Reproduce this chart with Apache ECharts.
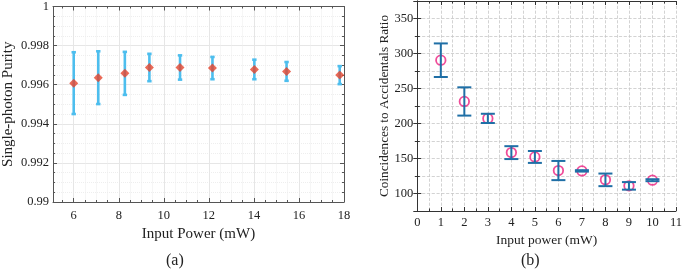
<!DOCTYPE html>
<html>
<head>
<meta charset="utf-8">
<script src="https://cdn.jsdelivr.net/npm/echarts@6/dist/echarts.min.js"></script>
<style>
    html, body { margin: 0; padding: 0; background: #fff; }
    #chart { width: 685px; height: 271px; }
</style>
</head>
<body>
<div id="chart"></div>
<script>
// (a) purity vs input power
var purityPower = [6.0, 7.09, 8.27, 9.36, 10.72, 12.16, 14.02, 15.45, 17.81];
var purityValue = [0.99608, 0.99636, 0.99658, 0.99688, 0.99688, 0.99685, 0.99678, 0.99668, 0.99649];
var purityErr = [0.00158, 0.00135, 0.0011, 0.0007, 0.00062, 0.00057, 0.0005, 0.00048, 0.00046];

// (b) CAR vs input power
var carPower = [1, 2, 3, 4, 5, 6, 7, 8, 9, 10];
var carValue = [290.4, 231.5, 207.3, 158.4, 152.2, 132.8, 132.3, 119.5, 110.9, 119.0];
var carErr = [24.0, 20.2, 6.6, 9.2, 8.5, 13.7, 1.0, 9.0, 5.4, 1.4];

var serif = 'Liberation Serif';

function pairs(xs, ys) {
    return xs.map(function (x, i) { return [x, ys[i]]; });
}
function bars(xs, ys, es) {
    return xs.map(function (x, i) { return [x, ys[i] - es[i], ys[i] + es[i]]; });
}

// vertical error bar with caps
function errorBar(capHalf, width) {
    return function (params, api) {
        var x = api.value(0);
        var lo = api.coord([x, api.value(1)]);
        var hi = api.coord([x, api.value(2)]);
        var style = {stroke: api.visual('color'), lineWidth: width, fill: null};
        return {
            type: 'group',
            children: [
                {type: 'line', shape: {x1: hi[0], y1: hi[1], x2: lo[0], y2: lo[1]}, style: style},
                {type: 'line', shape: {x1: hi[0] - capHalf, y1: hi[1], x2: hi[0] + capHalf, y2: hi[1]}, style: style},
                {type: 'line', shape: {x1: lo[0] - capHalf, y1: lo[1], x2: lo[0] + capHalf, y2: lo[1]}, style: style}
            ]
        };
    };
}

// frame-only axis (ticks on top / right)
function frameAxis(base, pos) {
    return Object.assign({}, base, {
        position: pos,
        name: '',
        axisLabel: {show: false},
        splitLine: {show: false},
        minorSplitLine: {show: false}
    });
}

var ax1 = {
    type: 'value', gridIndex: 0, min: 5.08, max: 18, minInterval: 2, maxInterval: 2,
    axisLine: {lineStyle: {color: '#555', width: 1}},
    axisTick: {inside: true, length: 4, lineStyle: {color: '#555'}},
    minorTick: {show: true, splitNumber: 4, length: 2, lineStyle: {color: '#555'}},
    axisLabel: {margin: 7, color: '#222', fontFamily: serif, fontSize: 12.5, showMinLabel: false},
    splitLine: {show: true, lineStyle: {color: '#e6e6e6', width: 1}},
    minorSplitLine: {show: true, lineStyle: {color: '#eeeeee', type: 'dotted', width: 1}},
    name: 'Input Power (mW)', nameLocation: 'middle', nameGap: 19,
    nameTextStyle: {color: '#222', fontFamily: serif, fontSize: 15}
};
var ay1 = {
    type: 'value', gridIndex: 0, min: 0.99, max: 1, interval: 0.002,
    axisLine: {lineStyle: {color: '#555', width: 1}},
    axisTick: {inside: true, length: 4, lineStyle: {color: '#555'}},
    minorTick: {show: true, splitNumber: 4, length: 2, lineStyle: {color: '#555'}},
    axisLabel: {margin: 4, color: '#222', fontFamily: serif, fontSize: 12.5},
    splitLine: {show: true, lineStyle: {color: '#e6e6e6', width: 1}},
    minorSplitLine: {show: true, lineStyle: {color: '#eeeeee', type: 'dotted', width: 1}},
    name: 'Single-photon Purity', nameLocation: 'middle', nameGap: 37,
    nameTextStyle: {color: '#222', fontFamily: serif, fontSize: 15}
};
var ax2 = {
    type: 'value', gridIndex: 1, min: 0, max: 11, interval: 1,
    axisLine: {lineStyle: {color: '#333', width: 1}},
    axisTick: {inside: true, length: 4, lineStyle: {color: '#333'}},
    minorTick: {show: true, splitNumber: 2, length: 2.5, lineStyle: {color: '#333'}},
    axisLabel: {margin: 5, color: '#222', fontFamily: serif, fontSize: 12.5},
    splitLine: {show: true, lineStyle: {color: '#c8c8c8', type: 'dashed', width: 0.8}},
    minorSplitLine: {show: true, lineStyle: {color: '#c8c8c8', type: 'dashed', width: 0.8}},
    name: 'Input power (mW)', nameLocation: 'middle', nameGap: 18,
    nameTextStyle: {color: '#222', fontFamily: serif, fontSize: 13.5}
};
var ay2 = {
    type: 'value', gridIndex: 1, min: 75, max: 375, minInterval: 50, maxInterval: 50,
    axisLine: {lineStyle: {color: '#333', width: 1}},
    axisTick: {inside: true, length: 4, lineStyle: {color: '#333'}},
    minorTick: {show: true, splitNumber: 2, length: 2.5, lineStyle: {color: '#333'}},
    axisLabel: {margin: 4, color: '#222', fontFamily: serif, fontSize: 12.5, showMinLabel: false, showMaxLabel: false},
    splitLine: {show: true, lineStyle: {color: '#c8c8c8', type: 'dashed', width: 0.8}},
    minorSplitLine: {show: true, lineStyle: {color: '#c8c8c8', type: 'dashed', width: 0.8}},
    name: 'Coincidences to Accidentals Ratio', nameLocation: 'middle', nameGap: 26,
    nameTextStyle: {color: '#222', fontFamily: serif, fontSize: 13.2}
};

var dom = document.getElementById('chart');
var myChart = echarts.init(dom, null, {renderer: 'canvas'});
option = {
    animation: false,
    backgroundColor: '#fff',
    textStyle: {fontFamily: serif},
    grid: [
        {left: 52.7, top: 5.7, width: 291.3, height: 196.3, show: false},
        {left: 417.3, top: 1, width: 262.7, height: 210, show: false}
    ],
    xAxis: [ax1, frameAxis(ax1, 'top'), ax2, frameAxis(ax2, 'top')],
    yAxis: [ay1, frameAxis(ay1, 'right'), ay2, frameAxis(ay2, 'right')],
    graphic: [
        {type: 'text', left: 166, top: 253, style: {text: '(a)', font: '16px "Liberation Serif"', fill: '#222'}},
        {type: 'text', left: 521, top: 253, style: {text: '(b)', font: '16px "Liberation Serif"', fill: '#222'}}
    ],
    series: [
        {
            type: 'custom', xAxisIndex: 0, yAxisIndex: 0,
            renderItem: errorBar(2.2, 2.6),
            itemStyle: {color: '#4dbeee'},
            encode: {x: 0, y: [1, 2]},
            data: bars(purityPower, purityValue, purityErr),
            z: 2
        },
        {
            type: 'scatter', xAxisIndex: 0, yAxisIndex: 0,
            symbol: 'diamond', symbolSize: 9,
            itemStyle: {color: '#e5432c'},
            data: pairs(purityPower, purityValue),
            z: 3
        },
        {
            type: 'scatter', xAxisIndex: 2, yAxisIndex: 2,
            symbol: 'circle', symbolSize: 9.5,
            itemStyle: {color: 'rgba(0,0,0,0)', borderColor: '#ec1f80', borderWidth: 1.8},
            data: pairs(carPower, carValue),
            z: 2
        },
        {
            type: 'custom', xAxisIndex: 2, yAxisIndex: 2,
            renderItem: errorBar(7, 2),
            itemStyle: {color: '#1f6fa6'},
            encode: {x: 0, y: [1, 2]},
            data: bars(carPower, carValue, carErr),
            z: 3
        }
    ]
};
if (option && typeof option === "object") {
    myChart.setOption(option, true);
}
</script>
</body>
</html>
